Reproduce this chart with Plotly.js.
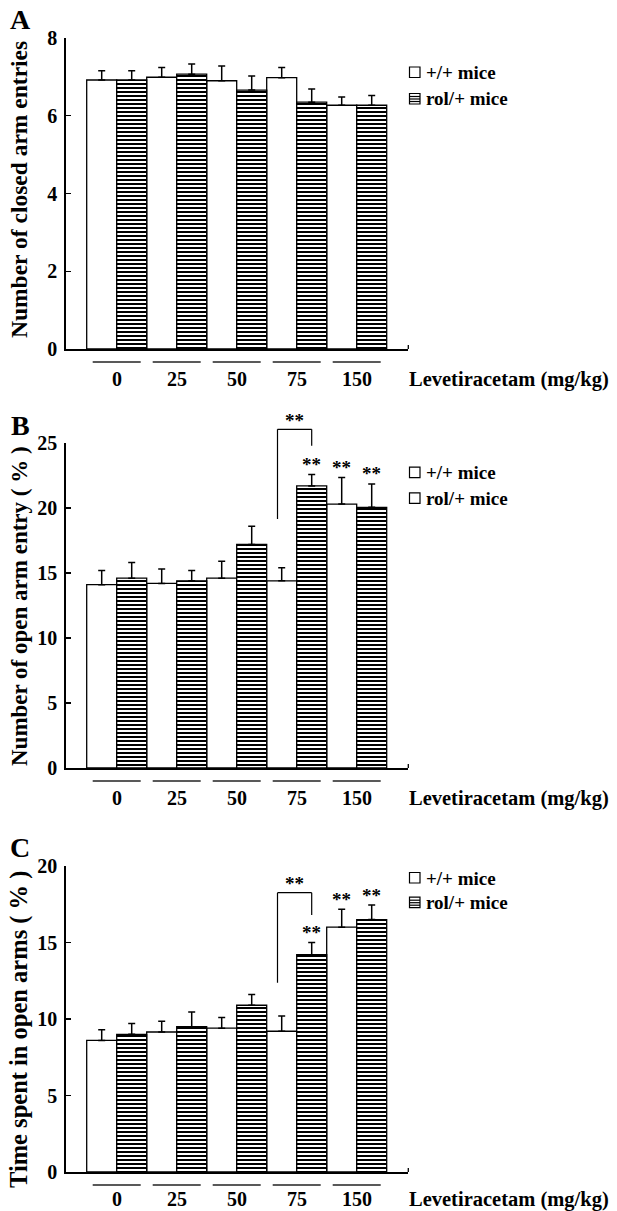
<!DOCTYPE html>
<html><head><meta charset="utf-8">
<script src="https://cdn.plot.ly/plotly-3.0.1.min.js"></script>
<style>body{margin:0;padding:0;background:#fff}#chart{width:617px;height:1211px}</style>
</head><body><div id="chart"></div>
<script>
// ---------- data ----------
const doses = ['0', '25', '50', '75', '150'];
const catPos = [0, 1, 2, 3, 4];
const seriesNames = ['+/+ mice', 'rol/+ mice'];
const xTitle = 'Levetiracetam (mg/kg)';

// Panel A: number of closed arm entries
const closedWT = [6.92, 6.99, 6.90, 6.98, 6.27];
const closedWTErr = [0.24, 0.25, 0.38, 0.26, 0.21];
const closedRol = [6.92, 7.07, 6.66, 6.35, 6.27];
const closedRolErr = [0.24, 0.26, 0.36, 0.34, 0.25];

// Panel B: number of open arm entry (%)
const entryWT = [14.1, 14.2, 14.6, 14.4, 20.3];
const entryWTErr = [1.1, 1.1, 1.3, 1.0, 2.05];
const entryRol = [14.6, 14.4, 17.2, 21.7, 20.05];
const entryRolErr = [1.2, 0.8, 1.4, 0.87, 1.8];
const entrySigWT = ['', '', '', '', '**'];
const entrySigRol = ['', '', '', '**', '**'];

// Panel C: time spent in open arms (%)
const timeWT = [8.6, 9.15, 9.4, 9.2, 16.0];
const timeWTErr = [0.7, 0.7, 0.7, 1.0, 1.18];
const timeRol = [9.0, 9.5, 10.9, 14.2, 16.5];
const timeRolErr = [0.7, 0.95, 0.7, 0.8, 0.95];
const timeSigWT = ['', '', '', '', '**'];
const timeSigRol = ['', '', '', '**', '**'];

// ---------- layout helpers ----------
const W = 617, H = 1211;
const FONT = 'Liberation Serif, Times New Roman, serif';
const px = v => v / W;          // pixel x -> paper
const py = v => 1 - v / H;      // pixel y -> paper
const xDom = [px(65.7), px(408.3)];

const panels = [
  {letter: 'A', title: 'Number of closed arm entries', tsize: 23.5, wt: closedWT, wtE: closedWTErr, rol: closedRol, rolE: closedRolErr,
   sigWT: null, sigRol: null, range: [0, 8], dtick: 2, top: 38, bottom: 349, letterY: 19, titleY: 190, legY: [72.5, 99], legStriped: true, bracket: null},
  {letter: 'B', title: 'Number of open arm entry ( % )', tsize: 23, wt: entryWT, wtE: entryWTErr, rol: entryRol, rolE: entryRolErr,
   sigWT: entrySigWT, sigRol: entrySigRol, range: [0, 25], dtick: 5, top: 443, bottom: 768, letterY: 426, titleY: 606, legY: [472.7, 498.3], legStriped: false,
   bracket: {top: 429.3, rightBottom: 445.7, leftBottom: 519}},
  {letter: 'C', title: 'Time spent in open arms ( % )', tsize: 24.5, wt: timeWT, wtE: timeWTErr, rol: timeRol, rolE: timeRolErr,
   sigWT: timeSigWT, sigRol: timeSigRol, range: [0, 20], dtick: 5, top: 866, bottom: 1172, letterY: 848, titleY: 1030, legY: [878, 902.7], legStriped: true,
   bracket: {top: 892.7, rightBottom: 915, leftBottom: 982.7}}
];

const traces = [];
const layout = {
  width: W, height: H, margin: {l: 0, r: 0, t: 0, b: 0},
  paper_bgcolor: '#fff', plot_bgcolor: 'rgba(0,0,0,0)',
  showlegend: false, barmode: 'group', bargap: 0, bargroupgap: 0,
  annotations: [], shapes: []
};

const stripe = {shape: '-', size: 4, solidity: 0.5, fgcolor: '#000', bgcolor: '#fff', fillmode: 'replace'};

panels.forEach((p, k) => {
  const sfx = k === 0 ? '' : String(k + 1);
  const xa = 'x' + sfx, ya = 'y' + sfx;
  const common = {type: 'bar', x: catPos, xaxis: xa, yaxis: ya, hoverinfo: 'skip'};
  const eb = {type: 'data', symmetric: false, arrayminus: catPos.map(() => 0), color: '#000', thickness: 1.5, width: 3.5};
  traces.push(Object.assign({}, common, {
    name: seriesNames[0], y: p.wt,
    marker: {color: '#fff', line: {color: '#000', width: 1.3}},
    error_y: Object.assign({}, eb, {array: p.wtE})
  }));
  traces.push(Object.assign({}, common, {
    name: seriesNames[1], y: p.rol,
    marker: {color: '#fff', pattern: stripe, line: {color: '#000', width: 1.3}},
    error_y: Object.assign({}, eb, {array: p.rolE})
  }));

  layout['xaxis' + sfx] = {
    domain: xDom, anchor: ya, range: [-0.85, 4.86], showline: true, linecolor: '#000', linewidth: 1.5,
    showticklabels: false, ticks: '', showgrid: false, zeroline: false, fixedrange: true
  };
  layout['yaxis' + sfx] = {
    domain: [py(p.bottom), py(p.top)], anchor: xa, range: p.range, dtick: p.dtick,
    ticks: 'inside', ticklen: 5, tickwidth: 1.3, tickcolor: '#000',
    showline: true, linecolor: '#000', linewidth: 1.5, showgrid: false, zeroline: false, fixedrange: true,
    ticklabelstandoff: 3,
    tickfont: {family: FONT, size: 20, color: '#000', weight: 'bold'}
  };

  const A = layout.annotations, S = layout.shapes;
  // panel letter
  A.push({xref: 'paper', yref: 'paper', x: px(20), y: py(p.letterY), text: p.letter, showarrow: false,
          xanchor: 'center', yanchor: 'middle', font: {family: FONT, size: 28, color: '#000', weight: 'bold'}});
  // y title
  A.push({xref: 'paper', yref: 'paper', x: px(19), y: py(p.titleY), text: p.title, textangle: -90, showarrow: false,
          xanchor: 'center', yanchor: 'middle', font: {family: FONT, size: p.tsize, color: '#000', weight: 'bold'}});
  // category labels and underlines
  const labY = k === 2 ? p.bottom + 27 : p.bottom + 30;
  doses.forEach((d, i) => {
    A.push({xref: xa, yref: 'paper', x: catPos[i], y: py(labY), text: d, showarrow: false,
            xanchor: 'center', yanchor: 'middle', font: {family: FONT, size: 20, color: '#000', weight: 'bold'}});
    S.push({type: 'line', xref: xa, yref: 'paper', x0: catPos[i] - 0.4, x1: catPos[i] + 0.4,
            y0: py(p.bottom + 13), y1: py(p.bottom + 13), line: {color: '#222', width: 1.4}});
  });
  A.push({xref: 'paper', yref: 'paper', x: px(407), y: py(labY), text: xTitle, showarrow: false,
          xanchor: 'left', yanchor: 'middle', font: {family: FONT, size: 20.5, color: '#000', weight: 'bold'}});
  // small end tick of x axis
  S.push({type: 'line', xref: 'paper', yref: 'paper', x0: px(408.3), x1: px(408.3), y0: py(p.bottom), y1: py(p.bottom - 4),
          line: {color: '#000', width: 1.3}});
  // legend
  seriesNames.forEach((nm, j) => {
    const cy = p.legY[j];
    S.push({type: 'rect', xref: 'paper', yref: 'paper', x0: px(409.5), x1: px(420), y0: py(cy + 5), y1: py(cy - 5.5),
            line: {color: '#000', width: 1.2}, fillcolor: '#fff'});
    if (j === 1 && p.legStriped) {
      [-2.5, 0, 2.5].forEach(dy => S.push({type: 'line', xref: 'paper', yref: 'paper', x0: px(409.5), x1: px(420),
        y0: py(cy + dy), y1: py(cy + dy), line: {color: '#000', width: 1.2}}));
    }
    A.push({xref: 'paper', yref: 'paper', x: px(424), y: py(cy), text: nm, showarrow: false,
            xanchor: 'left', yanchor: 'middle', font: {family: FONT, size: 19, color: '#000', weight: 'bold'}});
  });
  // significance stars
  const star = (x, y, t) => A.push({xref: xa, yref: ya, x: x, y: y, text: t, showarrow: false, xanchor: 'center',
      yanchor: 'middle', yshift: 10, font: {family: FONT, size: 19, color: '#000', weight: 'bold'}});
  if (p.sigWT) p.sigWT.forEach((t, i) => { if (t) star(catPos[i] - 0.25, p.wt[i] + p.wtE[i], t); });
  if (p.sigRol) p.sigRol.forEach((t, i) => { if (t) star(catPos[i] + 0.25, p.rol[i] + p.rolE[i], t); });
  // bracket between +/+ and rol/+ at 75 mg/kg
  if (p.bracket) {
    const b = p.bracket, xl = catPos[3] - 0.32, xr = catPos[3] + 0.25;
    S.push({type: 'line', xref: xa, yref: 'paper', x0: xl, x1: xl, y0: py(b.leftBottom), y1: py(b.top), line: {color: '#000', width: 1.2}});
    S.push({type: 'line', xref: xa, yref: 'paper', x0: xl, x1: xr, y0: py(b.top), y1: py(b.top), line: {color: '#000', width: 1.2}});
    S.push({type: 'line', xref: xa, yref: 'paper', x0: xr, x1: xr, y0: py(b.top), y1: py(b.rightBottom), line: {color: '#000', width: 1.2}});
    A.push({xref: xa, yref: 'paper', x: (xl + xr) / 2, y: py(b.top - 12), text: '**', showarrow: false,
            xanchor: 'center', yanchor: 'middle', yshift: -3, font: {family: FONT, size: 19, color: '#000', weight: 'bold'}});
  }
});

Plotly.newPlot('chart', traces, layout, {staticPlot: true, displayModeBar: false});
</script>
</body></html>
